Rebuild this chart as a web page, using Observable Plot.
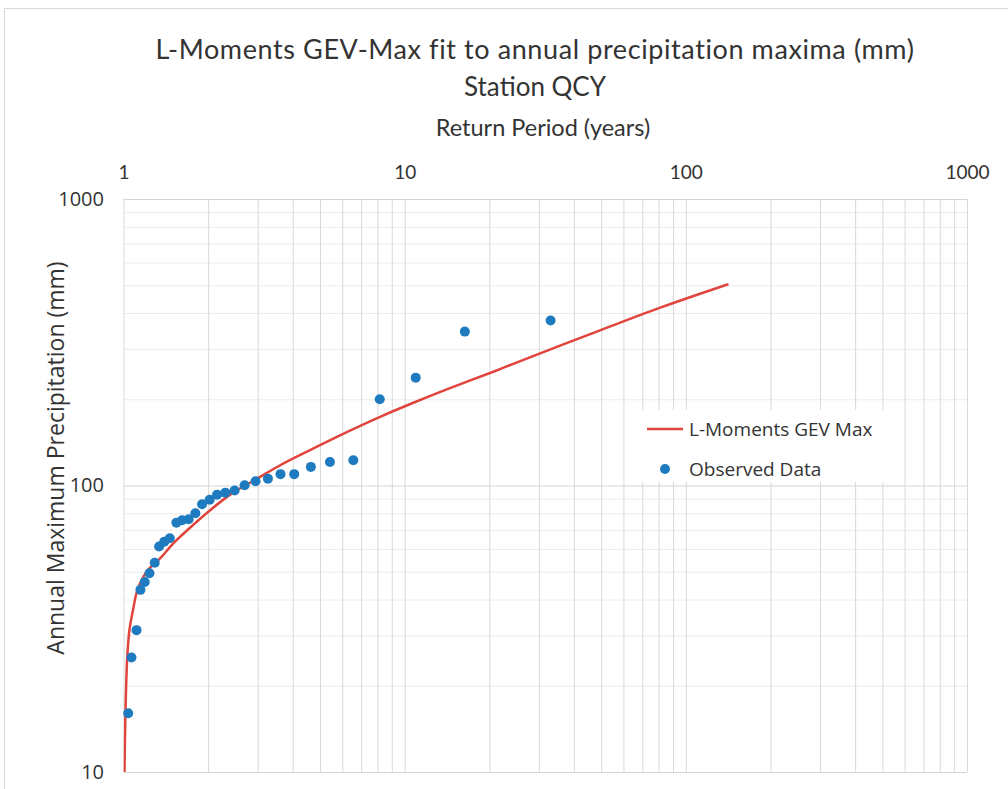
<!DOCTYPE html>
<html>
<head>
<meta charset="utf-8">
<script src="https://cdn.jsdelivr.net/npm/d3@7"></script>
<script src="https://cdn.jsdelivr.net/npm/@observablehq/plot@0.6"></script>
<style>
  body { margin: 0; background: #fff; }
  #wrap { position: relative; width: 1008px; height: 789px; overflow: hidden; }
  #frame { position: absolute; left: 4px; top: 8px; width: 1200px; height: 1000px;
           border-top: 1px solid #d9d9d9; border-left: 1px solid #d9d9d9; pointer-events: none; }
  #header { position: relative; height: 148px; }
  .hline { position: absolute; left: 0; width: 1070px; text-align: center; color: #333; font-family: Lato, sans-serif; white-space: nowrap; }
  #chart { position: relative; }
  #legend { position: absolute; left: 640px; top: 410px; width: 262px; height: 72px; background: #fff;
            font-family: "Open Sans", sans-serif; font-size: 19px; color: #333; }
  .lrow { position: absolute; left: 0; height: 26px; display: flex; align-items: center; }
  .lrow svg { margin-right: 6px; }
</style>
</head>
<body>
<div id="wrap">
  <div id="frame"></div>
  <div id="header">
    <div class="hline" style="top:32px;font-size:27px;letter-spacing:0.6px;">L-Moments GEV-Max fit to annual precipitation maxima (mm)</div>
    <div class="hline" style="top:70px;font-size:26px;">Station QCY</div>
    <div class="hline" style="top:113px;font-size:23.5px;left:3px;width:1080px;">Return Period (years)</div>
  </div>
  <div id="chart"></div>
  <div id="legend">
    <div class="lrow" style="top:6px;left:7px;">
      <svg width="36" height="10"><line x1="0" x2="36" y1="5" y2="5" stroke="#e0443c" stroke-width="2.5"></line></svg>
      <span>L-Moments GEV Max</span>
    </div>
    <div class="lrow" style="top:46px;left:7px;">
      <svg width="36" height="12"><circle cx="18" cy="6" r="5" fill="#1f7bc0"></circle></svg>
      <span>Observed Data</span>
    </div>
  </div>
</div>
<script>
// Observed annual maxima: return period (years) and precipitation (mm)
const obsReturnPeriod = [1.035, 1.063, 1.108, 1.144, 1.185, 1.232, 1.286, 1.333, 1.39, 1.455,
  1.536, 1.609, 1.698, 1.794, 1.895, 2.017, 2.143, 2.293, 2.474, 2.685,
  2.937, 3.25, 3.603, 4.03, 4.62, 5.40, 6.54, 8.12, 10.9, 16.3, 32.9];
const obsPrecip = [16.1, 25.2, 31.4, 43.4, 46.2, 49.6, 54.0, 61.5, 63.9, 65.7,
  74.5, 75.9, 76.5, 80.3, 86.3, 89.5, 93.3, 94.8, 96.4, 100.6,
  103.9, 106.1, 110.0, 110.0, 116.6, 121.3, 123.0, 200.9, 238.9, 345.9, 378];

// L-Moments GEV Max fitted curve
const fitReturnPeriod = [1.004, 1.012, 1.027, 1.046, 1.075, 1.117, 1.209, 1.349, 1.504, 1.8,
  2.0, 2.393, 3.018, 3.606, 4.737, 6.228, 8.18, 10.75, 14.13, 20.7, 25.8, 49.6, 81.2, 140];
const fitPrecip = [10, 16.2, 25.3, 31.5, 36.6, 43.4, 50.5, 56.1, 63.3, 74.5,
  81.5, 93.5, 106.9, 118.4, 135.5, 154.5, 174.7, 195.6, 217.8, 251, 273.5, 350, 420, 505];

// Axis ticks
const xTickValues = [1, 10, 100, 1000];
const yTickValues = [10, 100, 1000];
const gridMultipliers = [1, 2, 3, 4, 5, 6, 7, 8, 9];

const obs = obsReturnPeriod.map((t, i) => ({T: t, P: obsPrecip[i]}));
const fit = fitReturnPeriod.map((t, i) => ({T: t, P: fitPrecip[i]}));

const xGrid = [];
for (const d of [1, 10, 100]) for (const k of gridMultipliers) xGrid.push(k * d);
xGrid.push(1000);
const yMinor = [];
for (const d of [10, 100]) for (const k of gridMultipliers.slice(1)) yMinor.push(k * d);

const chart = Plot.plot({
  width: 1008,
  height: 641,
  marginLeft: 123.5,
  marginRight: 41,
  marginTop: 51,
  marginBottom: 17,
  style: {background: "transparent", color: "#333", overflow: "visible"},
  x: {type: "log", domain: [1, 1000]},
  y: {type: "log", domain: [10, 1000]},
  marks: [
    Plot.ruleY(yMinor, {stroke: "#ececec", strokeWidth: 1}),
    Plot.ruleX(xGrid, {stroke: "#d9d9d9", strokeWidth: 1}),
    Plot.ruleY(yTickValues, {stroke: "#d4d4d4", strokeWidth: 1}),
    Plot.axisX({anchor: "top", ticks: xTickValues, tickFormat: d => String(d), tickSize: 0, tickPadding: 21,
      label: null, fontSize: 19, fontFamily: "Lato, sans-serif", fill: "#333"}),
    Plot.axisY({ticks: yTickValues, tickFormat: d => String(d), tickSize: 0, tickPadding: 20,
      label: null, fontSize: 20, fontFamily: "Open Sans, sans-serif", fill: "#333"}),
    Plot.text(["Annual Maximum Precipitation (mm)"], {frameAnchor: "left", textAnchor: "middle", rotate: -90, dx: -67, dy: -28,
      fontSize: 23, fontFamily: "Open Sans, sans-serif", fill: "#333"}),
    Plot.line(fit, {x: "T", y: "P", stroke: "#e0443c", strokeWidth: 2.5, curve: "catmull-rom", clip: true}),
    Plot.dot(obs, {x: "T", y: "P", r: 5, fill: "#1f7bc0"})
  ]
});
document.getElementById("chart").appendChild(chart);
</script>
</body>
</html>
